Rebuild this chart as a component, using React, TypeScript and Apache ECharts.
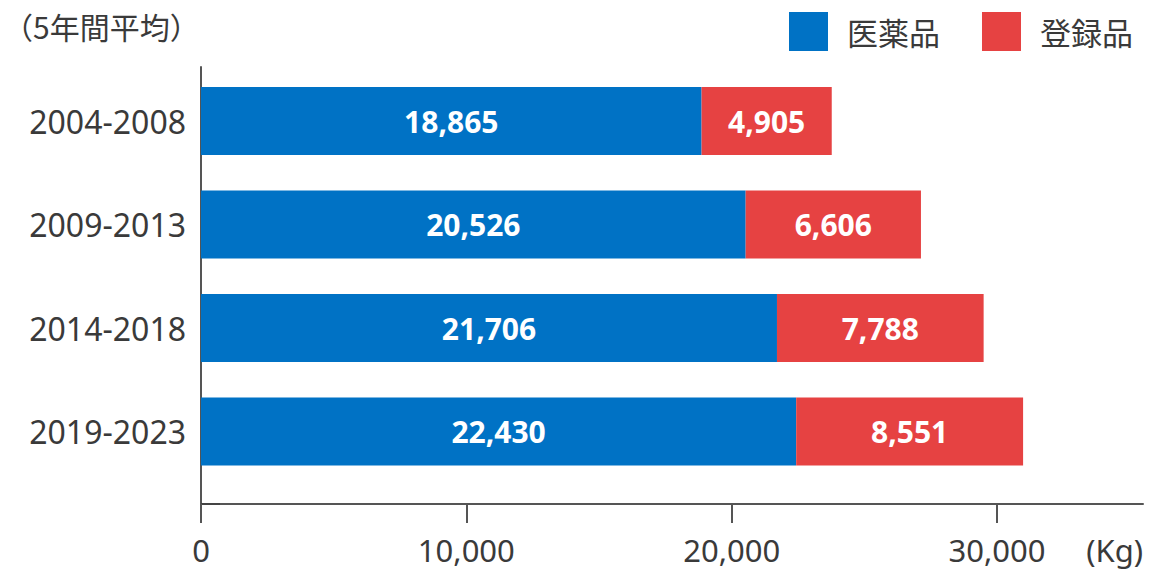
import React, { useEffect, useRef } from "react";
import * as echarts from "echarts";

const categories = ["2004-2008", "2009-2013", "2014-2018", "2019-2023"];
const medicineValues = [18865, 20526, 21706, 22430];
const registeredValues = [4905, 6606, 7788, 8551];
const seriesNames = ["医薬品", "登録品"];
const xTickValues = [0, 10000, 20000, 30000];
const xMax = 35500;
const unitLabel = "(Kg)";
const titleText = "（5年間平均）";

const FONT = "'Noto Sans', 'Noto Sans CJK JP', sans-serif";
const CJK = "'Noto Sans CJK JP', 'Noto Sans', sans-serif";
const fmt = (v: number) => v.toLocaleString("en-US");

export default function App() {
  const ref = useRef<HTMLDivElement>(null);
  useEffect(() => {
    if (!ref.current) return;
    const chart = echarts.init(ref.current, null, { renderer: "svg" });
    const gridLeft = 201;
    const gridRight = 17;
    const barLabel = {
      show: true,
      position: "inside",
      color: "#fff",
      fontFamily: FONT,
      fontWeight: "bold",
      fontSize: 30,
      formatter: (p: any) => fmt(p.value),
    };
    chart.setOption({
      animation: false,
      textStyle: { fontFamily: FONT },
      title: {
        text: titleText,
        left: 3,
        top: 11,
        padding: 0,
        textStyle: { fontFamily: CJK, fontSize: 30, fontWeight: "normal", color: "#3a3a3a" },
      },
      legend: {
        left: 789,
        top: 12,
        padding: 0,
        itemWidth: 39,
        itemHeight: 39,
        itemGap: 42,
        icon: "rect",
        data: seriesNames,
        textStyle: { fontFamily: CJK, fontSize: 31, color: "#3a3a3a", padding: [0, 0, 0, 14] },
      },
      grid: [
        { left: gridLeft, right: gridRight, top: 69.25, height: 414 },
        { left: gridLeft, right: gridRight, top: 67, height: 437 },
      ],
      xAxis: [
        { gridIndex: 0, type: "value", min: 0, max: xMax, show: false },
        {
          gridIndex: 1,
          type: "value",
          min: 0,
          max: xMax,
          interval: 10000,
          splitLine: { show: false },
          axisLine: { show: true, lineStyle: { color: "#555", width: 2 } },
          axisTick: { show: true, length: 19, lineStyle: { color: "#555", width: 2 }, customValues: xTickValues },
          axisLabel: {
            margin: 30,
            fontFamily: FONT,
            fontSize: 31,
            color: "#3a3a3a",
            alignMaxLabel: "right",
            customValues: [...xTickValues, xMax],
            formatter: (v: number) => (v === xMax ? unitLabel : fmt(v)),
          },
        },
      ],
      yAxis: [
        {
          gridIndex: 0,
          type: "category",
          inverse: true,
          data: categories,
          axisLine: { show: false },
          axisTick: { show: false },
          axisLabel: { margin: 15, fontFamily: FONT, fontSize: 32, color: "#3a3a3a" },
        },
        {
          gridIndex: 1,
          type: "value",
          min: 0,
          max: 1,
          splitLine: { show: false },
          axisLabel: { show: false },
          axisLine: { show: true, lineStyle: { color: "#555", width: 2 } },
          axisTick: { show: true, inside: true, length: 19, lineStyle: { color: "#444", width: 2 }, customValues: [0] },
        },
      ],
      series: [
        {
          name: seriesNames[0],
          type: "bar",
          stack: "total",
          xAxisIndex: 0,
          yAxisIndex: 0,
          barWidth: 68,
          data: medicineValues,
          itemStyle: { color: "#0072C5" },
          label: barLabel,
        },
        {
          name: seriesNames[1],
          type: "bar",
          stack: "total",
          xAxisIndex: 0,
          yAxisIndex: 0,
          barWidth: 68,
          data: registeredValues,
          itemStyle: { color: "#E64242" },
          label: barLabel,
        },
      ],
    });
    return () => chart.dispose();
  }, []);
  return (
    <div
      ref={ref}
      style={{ position: "fixed", left: 0, top: 0, width: 1160, height: 580, background: "#fff" }}
    />
  );
}
